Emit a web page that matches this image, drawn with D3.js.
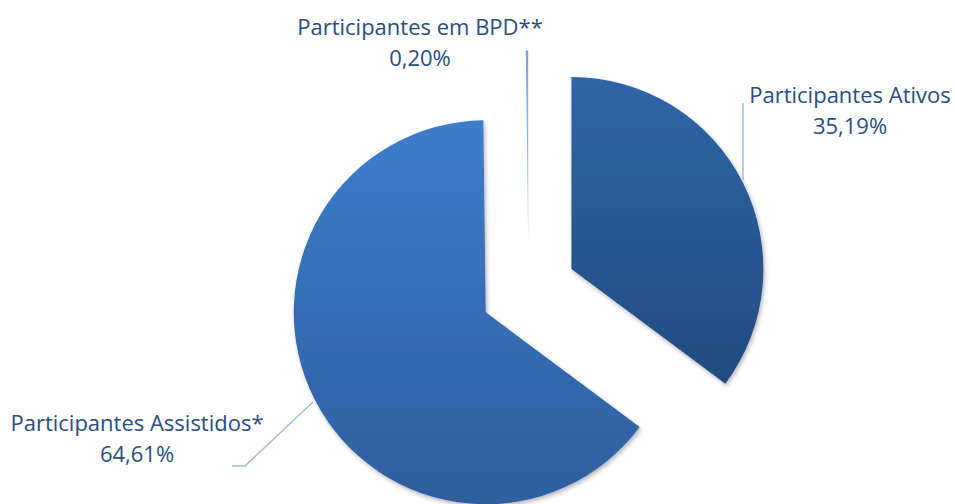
<!DOCTYPE html>
<html>
<head>
<meta charset="utf-8">
<script src="https://cdn.jsdelivr.net/npm/d3@7/dist/d3.min.js"></script>
<style>
  html, body { margin: 0; padding: 0; background: #fff; }
  svg { display: block; }
  text { font-family: "Open Sans", Lato, sans-serif; fill: #2A4D7F; }
</style>
</head>
<body>
<svg id="chart" width="955" height="504"></svg>
<script>
const categories = ["Participantes Ativos", "Participantes Assistidos*", "Participantes em BPD**"];
const values = [35.19, 64.61, 0.20];
const valueLabels = ["35,19%", "64,61%", "0,20%"];

const W = 955, H = 504;
const cx = 528.5, cy = 290.5, R = 192, explode = 48;
const gradTop = ["#2F66A8", "#3C7ECB", "#7FA3D8"];
const gradBottom = ["#224B7F", "#2E5E9E", "#B3C8E8"];

const svg = d3.select("#chart");
const defs = svg.append("defs");

const shadow = defs.append("filter").attr("id", "shadow")
  .attr("x", "-10%").attr("y", "-10%").attr("width", "130%").attr("height", "130%");
shadow.append("feDropShadow").attr("dx", 1.5).attr("dy", 2.5)
  .attr("stdDeviation", 2.2).attr("flood-color", "#000").attr("flood-opacity", 0.28);

categories.forEach((c, i) => {
  const g = defs.append("linearGradient").attr("id", "grad" + i)
    .attr("x1", 0).attr("y1", 0).attr("x2", 0).attr("y2", 1);
  g.append("stop").attr("offset", "0%").attr("stop-color", gradTop[i]);
  g.append("stop").attr("offset", "100%").attr("stop-color", gradBottom[i]);
});

const data = categories.map((c, i) => ({ name: c, value: values[i], label: valueLabels[i], i }));
const pie = d3.pie().value(d => d.value).sort(null).startAngle(0).endAngle(2 * Math.PI);
const arcs = pie(data);
const arc = d3.arc().innerRadius(0).outerRadius(R);

const gPie = svg.append("g").attr("transform", `translate(${cx},${cy})`);
arcs.forEach(a => {
  const mid = (a.startAngle + a.endAngle) / 2;
  const dx = explode * Math.sin(mid), dy = -explode * Math.cos(mid);
  gPie.append("path")
    .attr("d", arc(a))
    .attr("transform", `translate(${dx},${dy})`)
    .attr("fill", `url(#grad${a.data.i})`)
    .attr("filter", a.data.i < 2 ? "url(#shadow)" : null);
});

// leader lines
const lineColor = "#9DBBE4";
const leaders = [
  [[743, 103], [743, 180]],
  [[313, 402], [245, 466], [232, 466]]
];
const lineGen = d3.line();
leaders.forEach(pts => {
  svg.append("path").attr("d", lineGen(pts))
    .attr("fill", "none").attr("stroke", lineColor).attr("stroke-width", 1.5);
});

// labels
const labelPos = [
  { x: 850, y: 103 },
  { x: 137, y: 431 },
  { x: 420, y: 35 }
];
data.forEach((d, i) => {
  const t = svg.append("text").attr("text-anchor", "middle")
    .attr("x", labelPos[i].x).attr("y", labelPos[i].y)
    .style("font-size", "22px");
  t.append("tspan").attr("x", labelPos[i].x).text(d.name);
  t.append("tspan").attr("x", labelPos[i].x).attr("dy", 31).text(d.label);
});
</script>
</body>
</html>
